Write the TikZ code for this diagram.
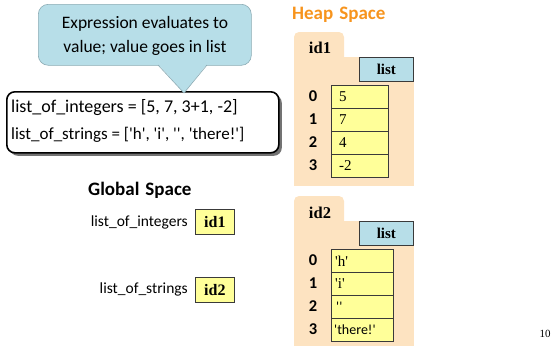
\documentclass[tikz,border=0pt]{standalone}
\usepackage{fontspec}
\setmainfont{Liberation Serif}
\newfontfamily\carl{Carlito}
\usetikzlibrary{shadows}
\definecolor{calloutfill}{HTML}{B7DEE8}
\definecolor{calloutline}{HTML}{8AAAB3}
\definecolor{tanfill}{HTML}{FDE3C1}
\definecolor{cellfill}{HTML}{FFFF99}
\definecolor{heaporange}{HTML}{F7941D}
\definecolor{boxline}{HTML}{3A3A3A}
\newcommand\myq{\textquotesingle}
\tikzset{
  codetext/.style={anchor=base west, inner sep=0pt, font=\carl\fontsize{18}{20}\selectfont},
  varname/.style={anchor=east, inner sep=0pt, font=\carl\fontsize{15.5}{18}\selectfont},
  spacetitle/.style={anchor=west, inner sep=0pt, font=\carl\bfseries\fontsize{19}{22}\selectfont},
  idbox/.style={draw=boxline, fill=cellfill, line width=0.8pt, minimum width=39pt, minimum height=25pt, inner sep=0pt, anchor=north west, font=\bfseries\fontsize{16}{18}\selectfont},
  tabtext/.style={inner sep=0pt, font=\bfseries\fontsize{16.5}{18}\selectfont},
  listbox/.style={draw=boxline, fill=calloutfill, line width=0.8pt, minimum width=54pt, minimum height=24pt, inner sep=0pt, anchor=north west, font=\bfseries\fontsize{15}{17}\selectfont},
  cellbox/.style={draw=boxline, fill=cellfill, line width=0.8pt, minimum height=23pt, inner sep=0pt, anchor=north west},
  cellval/.style={anchor=west, inner sep=0pt, font=\fontsize{15}{17}\selectfont},
  idx/.style={inner sep=0pt, font=\carl\bfseries\fontsize{16.5}{18}\selectfont},
}
\begin{document}
\begin{tikzpicture}[x=1pt,y=-1pt]
\useasboundingbox (0,0) rectangle (554,346);

% code box
\node[draw=black, line width=1.6pt, fill=white, rounded corners=8pt,
      minimum width=272pt, minimum height=61pt, anchor=north west,
      drop shadow={shadow xshift=3pt, shadow yshift=-3pt, fill=black!55, opacity=1}] (code) at (6,91) {};
\node[codetext] (line1) at (11,112) {list\_of\_integers = [5, 7, 3+1, -2]};
\node[codetext, font=\carl\fontsize{17}{20}\selectfont] (line2) at (11,139) {list\_of\_strings = [\myq h\myq, \myq i\myq, \myq\myq, \myq there!\myq]};

% callout
\node[draw=calloutline, line width=0.6pt, fill=calloutfill, rounded corners=10pt,
      minimum width=213pt, minimum height=61pt, anchor=north west] (bubble) at (38,4) {};
\coordinate (tailL) at (158,65);
\coordinate (tailR) at (207,65);
\coordinate (tip) at (184,93);
\fill[calloutfill] ([yshift=1pt]tailL) -- (tip) -- ([yshift=1pt]tailR) -- cycle;
\draw[calloutline, line width=0.6pt] (tailL) -- (tip) -- (tailR);
\node[inner sep=0pt, align=center, font=\carl\fontsize{17.5}{23.5}\selectfont] (ctext) at (145,36)
  {Expression evaluates to\\value; value goes in list};

% global space
\node[spacetitle] (gtitle) at (88,190) {Global\hspace{6pt}Space};
\node[varname] (v1) at (188,222) {list\_of\_integers};
\node[idbox] (g1) at (195,209) {id1};
\node[varname] (v2) at (188,289) {list\_of\_strings};
\node[idbox] (g2) at (195,277) {id2};

% heap space
\node[spacetitle, text=heaporange] (htitle) at (292,15) {Heap\hspace{6pt}Space};

% folder id1
\fill[tanfill, rounded corners=5pt] (294,64) rectangle (344,32);
\fill[tanfill] (294,57) rectangle (414,186);
\node[tabtext] (t1) at (320,48) {id1};
\node[listbox] (l1) at (359,57) {list};
\foreach \i/\v in {0/5,1/7,2/4,3/-2} {
  \node[cellbox, minimum width=57pt] (a\i) at (331,{85+23*\i}) {};
  \node[cellval] (av\i) at ([xshift=8pt]a\i.west) {\v};
  \node[idx] (ai\i) at (313,{96.5+23*\i}) {\i};
}

% folder id2
\fill[tanfill, rounded corners=5pt] (294,228) rectangle (344,196);
\fill[tanfill] (294,221) rectangle (414,346);
\node[tabtext] (t2) at (320,213) {id2};
\node[listbox] (l2) at (359,221) {list};
\node[cellbox, minimum width=62pt] (b0) at (331,249) {};
\node[cellbox, minimum width=62pt] (b1) at (331,272) {};
\node[cellbox, minimum width=62pt] (b2) at (331,295) {};
\node[cellbox, minimum width=62pt] (b3) at (331,318) {};
\node[cellval] (bv0) at ([xshift=4pt]b0.west) {\myq h\myq};
\node[cellval] (bv1) at ([xshift=4pt]b1.west) {\myq i\myq};
\node[cellval, font=\carl\fontsize{14}{16}\selectfont] (bv2) at ([xshift=5pt]b2.west) {\myq\myq};
\node[cellval, font=\carl\fontsize{14}{16}\selectfont] (bv3) at ([xshift=3pt]b3.west) {\myq there!\myq};
\node[idx] (bi0) at (313,260.5) {0};
\node[idx] (bi1) at (313,283.5) {1};
\node[idx] (bi2) at (313,306.5) {2};
\node[idx] (bi3) at (313,329.5) {3};

% page number
\node[inner sep=0pt, font=\fontsize{11}{13}\selectfont] (pg) at (545,334) {10};
\end{tikzpicture}
\end{document}
